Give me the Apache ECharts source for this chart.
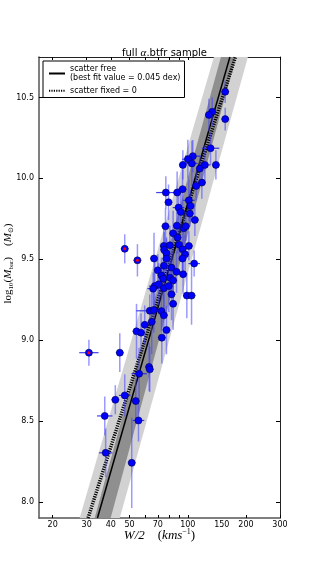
<!DOCTYPE html>
<html><head><meta charset="utf-8">
<script src="https://cdn.jsdelivr.net/npm/echarts@6/dist/echarts.min.js"></script>
<style>html,body{margin:0;padding:0;background:#fff}#c{width:312px;height:576px}</style>
</head><body><div id="c"></div>
<script>
// rotation velocity W/2 (km/s)
const velocity = [156.2,133.8,128.6,156.2,131.2,106.2,100.1,94.3,105.0,115.5,
  122.6,139.8,118.3,110.5,77.0,88.1,94.0,79.5,101.3,89.6,
  103.3,92.1,102.5,108.8,76.7,87.8,95.4,97.7,84.0,88.5,
  75.2,80.8,90.2,101.3,75.5,94.0,77.6,96.9,47.2,54.9,
  66.9,77.6,94.0,107.9,75.2,82.4,70.0,87.5,94.6,73.1,
  74.6,81.0,84.0,67.5,70.8,75.2,79.8,66.2,82.4,98.9,
  104.6,84.0,63.6,66.7,73.1,75.2,65.1,59.9,77.6,54.3,
  57.3,73.4,44.5,30.8,63.1,63.6,56.0,47.2,42.2,53.8,
  37.2,55.6,37.6,51.3];
// log10 baryonic mass
const logMass = [10.535,10.411,10.392,10.366,10.186,10.137,10.118,10.083,10.092,10.061,
  10.083,10.083,9.974,9.953,9.912,9.912,9.933,9.852,9.864,9.819,
  9.829,9.792,9.782,9.743,9.704,9.707,9.691,9.704,9.660,9.634,
  9.582,9.586,9.590,9.582,9.558,9.561,9.536,9.530,9.564,9.493,
  9.504,9.504,9.504,9.473,9.459,9.448,9.431,9.422,9.407,9.400,
  9.379,9.386,9.369,9.334,9.345,9.320,9.334,9.318,9.283,9.275,
  9.275,9.224,9.181,9.186,9.179,9.153,9.113,9.094,9.062,9.054,
  9.046,9.015,8.922,8.922,8.834,8.819,8.792,8.658,8.631,8.623,
  8.531,8.503,8.303,8.241];
// mass error (dex)
const massErr = [0.07,0.09,0.10,0.07,0.10,0.10,0.12,0.09,0.14,0.08,
  0.12,0.09,0.10,0.09,0.10,0.13,0.12,0.11,0.13,0.12,
  0.10,0.12,0.08,0.10,0.11,0.12,0.10,0.09,0.14,0.10,
  0.12,0.12,0.10,0.09,0.11,0.13,0.10,0.12,0.09,0.10,
  0.16,0.12,0.10,0.08,0.14,0.12,0.10,0.13,0.12,0.11,
  0.13,0.10,0.15,0.18,0.13,0.12,0.16,0.10,0.16,0.14,
  0.18,0.16,0.10,0.14,0.12,0.14,0.20,0.12,0.15,0.17,
  0.12,0.16,0.12,0.08,0.15,0.14,0.16,0.13,0.09,0.14,
  0.12,0.13,0.15,0.28];
// velocity error (dex)
const velErrDex = [0.02,0.02,0.02,0.02,0.045,0.04,0.03,0.02,0.03,0.02,
  0.03,0.02,0.02,0.02,0.05,0.02,0.02,0.02,0.03,0.03,
  0.02,0.02,0.02,0.02,0.02,0.02,0.02,0.02,0.02,0.02,
  0.02,0.02,0.02,0.02,0.02,0.02,0.02,0.02,0.02,0.02,
  0.02,0.02,0.02,0.03,0.02,0.02,0.02,0.02,0.02,0.02,
  0.02,0.02,0.02,0.03,0.02,0.02,0.02,0.03,0.02,0.02,
  0.02,0.02,0.07,0.03,0.02,0.02,0.02,0.02,0.02,0.02,
  0.02,0.02,0.02,0.05,0.02,0.02,0.04,0.03,0.02,0.02,
  0.04,0.03,0.035,0.02];
const flaggedIndex = [38, 39, 73];

// fit lines and bands (velocity at bottom / top of the mass range)
const lineMass = [7.9, 10.75];
const fitFreeVel = [34.1, 165.2];
const fitFixedVel = [30.5, 176.4];
const outerBandLeft = [27.6, 136.5];
const outerBandRight = [44.5, 204.7];
const innerBandLeft = [33.0, 148.4];
const innerBandRight = [39.9, 177.4];

const xTickValues = [20,30,40,50,60,70,80,90,100,200,300];
const xLabelValues = [20,30,40,50,70,100,150,200,300];
const yLabelValues = [8.0,8.5,9.0,9.5,10.0,10.5];
const xRange = [17, 300];
const yRange = [7.9, 10.75];
const legendNames = ['scatter free', 'scatter fixed = 0'];
const legendSub = '(best fit value = 0.045 dex)';

const L = v => Math.log10(v);
const chart = echarts.init(document.getElementById('c'));

const points = velocity.map((v, i) => [L(v), logMass[i], massErr[i], velErrDex[i]]);
const flagged = flaggedIndex.map(i => [L(velocity[i]), logMass[i]]);

function bandSeries(left, right, color) {
  return {
    type: 'custom', silent: true, clip: true, z: 1,
    data: [[L(left[0]), lineMass[0], L(right[0]), L(left[1]), lineMass[1], L(right[1])]],
    renderItem: function (params, api) {
      const p1 = api.coord([api.value(0), api.value(1)]);
      const p2 = api.coord([api.value(2), api.value(1)]);
      const p3 = api.coord([api.value(5), api.value(4)]);
      const p4 = api.coord([api.value(3), api.value(4)]);
      return { type: 'polygon', shape: { points: [p1, p2, p3, p4] }, style: { fill: color } };
    }
  };
}

const fontSans = 'DejaVu Sans';
const serif = 'Liberation Serif';
const axisLine = { show: true, lineStyle: { color: '#222', width: 1 } };

const option = {
  animation: false,
  backgroundColor: '#fff',
  title: {
    text: 'full {i|α}.btfr sample',
    left: 159.5, top: 43, textAlign: 'center',
    textStyle: { fontFamily: fontSans, fontSize: 10, fontWeight: 'normal', color: '#000',
      rich: { i: { fontFamily: serif, fontStyle: 'italic', fontSize: 11, color: '#000' } } }
  },
  legend: {
    left: 43, top: 61, orient: 'vertical',
    data: legendNames,
    formatter: n => n === legendNames[0] ? n + '\n' + legendSub : n,
    backgroundColor: '#fff', borderColor: '#000', borderWidth: 1, borderRadius: 0,
    padding: [3, 4, 2, 5], itemGap: 3, itemWidth: 16, itemHeight: 10,
    itemStyle: { opacity: 0 },
    textStyle: { fontFamily: fontSans, fontSize: 8, color: '#000', lineHeight: 9.5 }
  },
  grid: { left: 39, right: 32, top: 57, bottom: 58, containLabel: false, outerBoundsMode: 'none' },
  xAxis: [{
    type: 'value', position: 'bottom', min: L(xRange[0]), max: L(xRange[1]),
    axisLine: { show: true, onZero: false, lineStyle: { color: '#555', width: 1.5 } },
    splitLine: { show: false },
    axisTick: { inside: true, length: 3, customValues: xTickValues.map(L), lineStyle: { color: '#000' } },
    axisLabel: { customValues: xLabelValues.map(L), formatter: v => String(Math.round(Math.pow(10, v))),
      fontFamily: fontSans, fontSize: 8, color: '#000', margin: 3 },
    name: '{i|W/2}    {r|(}{i|kms}{s|−1}{r|)}', nameLocation: 'middle', nameGap: 10,
    nameMoveOverlap: false,
    nameTextStyle: { fontFamily: serif, fontSize: 13, color: '#000',
      rich: { i: { fontFamily: serif, fontStyle: 'italic', fontSize: 13, color: '#000' },
              r: { fontFamily: serif, fontSize: 13, color: '#000' },
              s: { fontFamily: serif, fontSize: 8, color: '#000', padding: [0, 0, 7, 0] } } }
  }, {
    type: 'value', position: 'top', min: L(xRange[0]), max: L(xRange[1]),
    axisLine: axisLine, splitLine: { show: false },
    axisTick: { inside: true, length: 3, customValues: xTickValues.map(L), lineStyle: { color: '#000' } },
    axisLabel: { show: false }
  }],
  yAxis: [{
    type: 'value', position: 'left', min: yRange[0], max: yRange[1],
    axisLine: { show: true, onZero: false, lineStyle: { color: '#555', width: 1.5 } },
    splitLine: { show: false },
    axisTick: { inside: true, length: 4, customValues: yLabelValues, lineStyle: { color: '#000' } },
    axisLabel: { customValues: yLabelValues, formatter: v => v.toFixed(1),
      fontFamily: fontSans, fontSize: 8, color: '#000', margin: 5 },
    name: '{r|log}{s|10}{r|(}{i|M}{s|bar}{r|)}    {r|(}{i|M}{s|⊙}{r|)}',
    nameLocation: 'middle', nameRotate: 90, nameGap: 24, nameMoveOverlap: false,
    nameTextStyle: { fontFamily: serif, fontSize: 11, color: '#000', padding: [0, 0, 0, 48],
      rich: { i: { fontFamily: serif, fontStyle: 'italic', fontSize: 11, color: '#000' },
              r: { fontFamily: serif, fontSize: 11, color: '#000' },
              s: { fontFamily: serif, fontSize: 7, color: '#000', padding: [6, 0, 0, 0] } } }
  }, {
    type: 'value', position: 'right', min: yRange[0], max: yRange[1],
    axisLine: axisLine, splitLine: { show: false },
    axisTick: { inside: true, length: 4, customValues: yLabelValues, lineStyle: { color: '#000' } },
    axisLabel: { show: false }
  }],
  series: [
    bandSeries(outerBandLeft, outerBandRight, '#d2d2d2'),
    bandSeries(innerBandLeft, innerBandRight, '#8f8f8f'),
    {
      name: legendNames[0], type: 'line', symbol: 'none', z: 3, clip: true,
      data: fitFreeVel.map((v, i) => [L(v), lineMass[i]]),
      itemStyle: { color: '#000' },
      lineStyle: { color: '#000', width: 1.5 }
    },
    {
      name: legendNames[1], type: 'line', symbol: 'none', z: 3, clip: true,
      data: fitFixedVel.map((v, i) => [L(v), lineMass[i]]),
      itemStyle: { color: '#000' },
      lineStyle: { color: '#000', width: 3.5, type: [1.2, 1.2] }
    },
    {
      type: 'custom', z: 4, clip: true, silent: true,
      data: points,
      renderItem: function (params, api) {
        const lx = api.value(0), y = api.value(1), ey = api.value(2), ex = api.value(3);
        const t = api.coord([lx, y + ey]), b = api.coord([lx, y - ey]);
        const l = api.coord([lx - ex, y]), r = api.coord([lx + ex, y]);
        return { type: 'group', children: [
          { type: 'line', shape: { x1: t[0], y1: t[1], x2: b[0], y2: b[1] },
            style: { stroke: 'rgba(70,70,255,0.55)', lineWidth: 1.5 } },
          { type: 'line', shape: { x1: l[0], y1: l[1], x2: r[0], y2: r[1] },
            style: { stroke: 'rgba(30,30,240,0.85)', lineWidth: 1.2 } }
        ] };
      }
    },
    {
      type: 'scatter', z: 5, symbol: 'circle', symbolSize: 7, silent: true,
      data: points.map(p => [p[0], p[1]]),
      itemStyle: { color: '#0000ff', borderColor: '#000044', borderWidth: 0.6, opacity: 1 }
    },
    {
      type: 'scatter', z: 6, symbol: 'circle', symbolSize: 3, silent: true,
      data: flagged,
      itemStyle: { color: '#ff0000', opacity: 1 }
    }
  ]
};
chart.setOption(option);
</script></body></html>
